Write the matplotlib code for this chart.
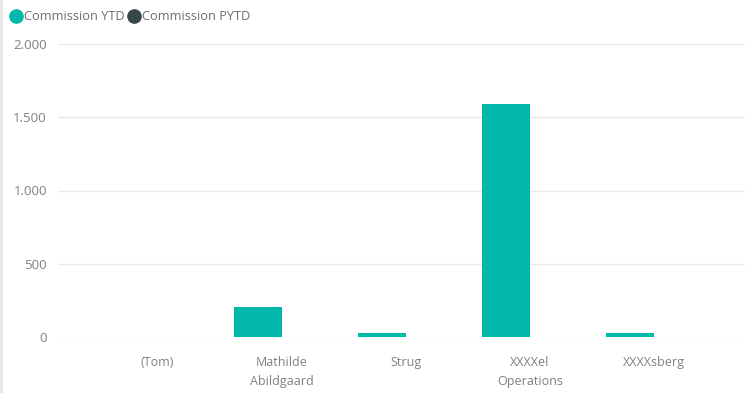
import matplotlib
matplotlib.use("Agg")
import matplotlib.pyplot as plt
from matplotlib.lines import Line2D
import numpy as np

plt.rcParams['font.family'] = ['Open Sans', 'DejaVu Sans']

categories = ["(Tom)", "Mathilde\nAbildgaard", "Strug", "XXXXel\nOperations", "XXXXsberg"]
commission_ytd = [0, 205, 27, 1590, 27]
commission_pytd = [0, 0, 0, 0, 0]
y_ticks = [0, 500, 1000, 1500, 2000]
y_tick_labels = ["0", "500", "1.000", "1.500", "2.000"]
series_names = ["Commission YTD", "Commission PYTD"]

COL_YTD = "#01B8AA"
COL_PYTD = "#374649"
TEXT = "#808080"

W, H = 749, 393
fig = plt.figure(figsize=(W / 100, H / 100), dpi=100)

# axes placement in pixel terms
left_px, right_px, top_px, bottom_px = 58, 745, 44, 337
ax = fig.add_axes([left_px / W, 1 - bottom_px / H,
                   (right_px - left_px) / W, (bottom_px - top_px) / H])

step = 124.2
first = 157.5
x = np.arange(len(categories))
bw = 48 / step
ax.bar(x - bw / 2, commission_ytd, width=bw, color=COL_YTD, zorder=3)
ax.bar(x + bw / 2, commission_pytd, width=bw, color=COL_PYTD, zorder=3)

ax.set_xlim((left_px - first) / step, (right_px - first) / step)
ax.set_ylim(0, 2000)
ax.set_yticks(y_ticks)
ax.set_yticklabels(y_tick_labels)
ax.set_xticks(x)
ax.set_xticklabels(categories, linespacing=1.6)

ax.grid(axis='y', color="#eaeaea", linewidth=1, zorder=0)
ax.set_axisbelow(True)
for s in ax.spines.values():
    s.set_visible(False)
ax.tick_params(axis='both', length=0, colors=TEXT)
ax.tick_params(axis='y', pad=8, labelsize=9.5)
ax.tick_params(axis='x', pad=14, labelsize=9)

# legend row: dot + name, laid out left to right
fy = 1 - 16 / H
renderer = fig.canvas.get_renderer()
cursor = 16
for name, col in zip(series_names, [COL_YTD, COL_PYTD]):
    fig.add_artist(Line2D([cursor / W], [fy], marker='o', markersize=9.5, color=col,
                          transform=fig.transFigure, linestyle=''))
    t = fig.text((cursor + 8) / W, fy, name, fontsize=9.2, color="#6e6e6e",
                 va='center', ha='left')
    bb = t.get_window_extent(renderer)
    cursor = bb.x1 + 9

# left frame edge
fig.add_artist(Line2D([1 / W, 1 / W], [0, 1], color="#e6e6e6", linewidth=2,
                      transform=fig.transFigure))

fig.savefig("out.png", dpi=100)
